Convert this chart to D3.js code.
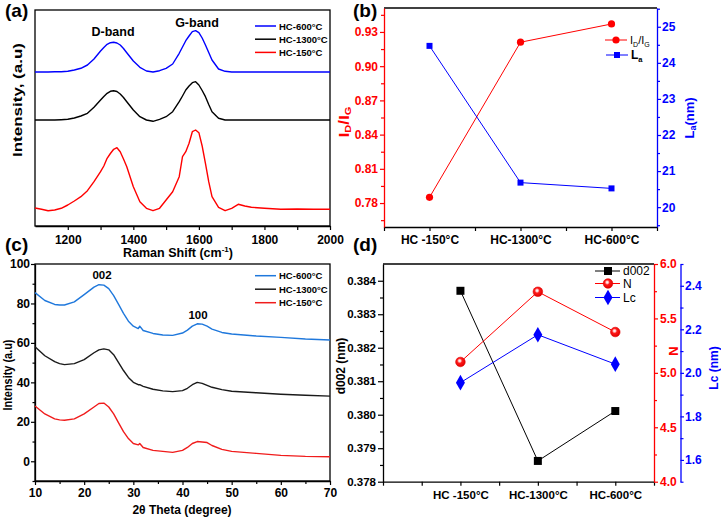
<!DOCTYPE html>
<html>
<head>
<meta charset="utf-8">
<script src="https://cdn.jsdelivr.net/npm/d3@7/dist/d3.min.js"></script>
<style>
body{margin:0;background:#fff;}
svg{display:block;}
</style>
</head>
<body>
<svg id="chart" width="721" height="518"></svg>
<script>
// ---------------- DATA ----------------
// (a) Raman spectra (arbitrary intensity, stacked)
const ramanShift = [1100,1120,1140,1160,1180,1200,1220,1240,1260,1280,1300,1310,1320,1330,1340,1350,1360,1370,1380,1400,1420,1440,1460,1480,1500,1520,1540,1550,1560,1570,1580,1590,1600,1610,1620,1630,1640,1660,1680,1700,1720,1740,1760,1800,1850,1900,1950,2000];
const ramanHC600  = [154,154,154,154.3,154.3,154.7,156,157.7,161,167,175,178.5,181.7,183.3,183.7,183,181,177.5,173.3,165,158.7,155,154,155.3,157.7,162,172.7,179,185.3,190,194.3,195.3,193.3,188,181,173.5,166,157,154.7,154,154,154,154,154,154,154,154,154];
const ramanHC1300 = [106,106,106,106,106.3,106.7,108,110,112.7,118.7,126,129.5,132.7,134.7,135.3,134.5,132,128.5,124.3,116,109.3,106,104.7,106.7,109.3,114.3,124.3,130,136,140,143.3,144.3,141,135.5,129.3,121.5,114.3,107.7,106,106,106,106,106,106,106,106,106,106];
const ramanHC150  = [18,16.7,15.3,16,17.7,21,25,29.3,35.3,44.3,54.3,60,67.7,72.5,76.7,78.3,74.3,67,59.3,39.3,24.3,17.7,15.3,17.7,26,34.3,49.3,69.3,74.3,82.7,94.3,96,93.3,80,62.7,44.3,29.3,18.7,15.3,17.7,21.7,20,18.7,17.7,16.7,17,16.7,16.7];
const ramanTicks = [1200,1400,1600,1800,2000];
const ramanMinor = [1300,1500,1700,1900];

// (c) XRD patterns
const twoTheta = [10,12,14,15,16,18,20,22,23,24,25,26,27,28,29,30,31,31.3,32,34,36,38,40,41,42,43,44,45,46,48,50,55,60,65,70];
const xrdHC600  = [85.5,81.5,79.5,79.2,79.2,80.8,84.5,88.3,89.5,89.3,87.5,84,79.5,75,71,68.5,67.3,68.5,66.3,64.8,64,63.8,65,66.5,68.5,69.7,69.5,68.5,67,65.3,64.5,63.5,62.8,62,61.5];
const xrdHC1300 = [58,53.5,50.5,49.5,49,49.5,51.5,55,56.5,57,56.5,54,50,46,42.5,40,38.8,38.8,38,36.5,35.7,35.3,35.8,37,38.8,40,39.5,38.5,37.5,36.3,35.5,34.7,34,33.5,33];
const xrdHC150  = [28,24,21.5,21,20.8,21.5,24,27.5,29.3,29.5,27.5,24,19.5,15,11.5,9,8.3,9,7,5.5,5,4.5,5.5,7,9,10,9.8,9.5,8,6,5,4,3,2.5,2.3];
const xrdXTicks = [10,20,30,40,50,60,70];
const xrdXMinor = [15,25,35,45,55,65];
const xrdYTicks = [0,20,40,60,80,100];
const xrdYMinor = [-10,10,30,50,70,90];

// (b) Raman parameters
const samples = ["HC -150°C","HC-1300°C","HC-600°C"];
const idig = [0.785, 0.921, 0.937];
const laNm = [24.47, 20.68, 20.52];
const idigTicks = [0.78,0.81,0.84,0.87,0.90,0.93];
const idigMinor = [0.765,0.795,0.825,0.855,0.885,0.915,0.945];
const laTicks = [20,21,22,23,24,25];
const laMinor = [19.5,20.5,21.5,22.5,23.5,24.5,25.5];

// (d) XRD parameters
const d002 = [0.38370, 0.37862, 0.38011];
const nLayers = [5.10, 5.745, 5.375];
const lcNm = [1.955, 2.175, 2.04];
const d002Ticks = [0.378,0.379,0.380,0.381,0.382,0.383,0.384];
const d002Minor = [0.3785,0.3795,0.3805,0.3815,0.3825,0.3835];
const nTicks = [4.0,4.5,5.0,5.5,6.0];
const nMinor = [4.25,4.75,5.25,5.75];
const lcTicks = [1.6,1.8,2.0,2.2,2.4];
const lcMinor = [1.5,1.7,1.9,2.1,2.3,2.5];

// ---------------- DRAWING ----------------
const FONT = '"Liberation Sans", Arial, Helvetica, sans-serif';
const svg = d3.select('#chart').attr('font-family', FONT);
const RED = '#ff0000', BLUE = '#0000ff';
const C_BLUE = '#1f78dc', C_RED = '#f01c1c', C_BLACK = '#1a1a1a';

function drawAxis(gen, pos, horizontal, majors, minors, fmt, color, fs, tick, pad, minorLen) {
  const tr = horizontal ? `translate(0,${pos})` : `translate(${pos},0)`;
  if (minors && minors.length) {
    const m = svg.append('g').attr('transform', tr)
      .call(gen().tickValues(minors).tickSize(minorLen || 3).tickFormat(''));
    m.select('.domain').remove();
    m.selectAll('.tick line').attr('stroke', color).attr('stroke-width', 1.2);
  }
  const a = svg.append('g').attr('transform', tr)
    .call(gen().tickValues(majors).tickSize(tick).tickSizeOuter(0).tickPadding(pad).tickFormat(fmt));
  a.attr('font-family', FONT);
  a.select('.domain').attr('stroke', color).attr('stroke-width', 1.3);
  a.selectAll('.tick line').attr('stroke', color).attr('stroke-width', 1.2);
  a.selectAll('.tick text').attr('fill', color).attr('font-size', fs).attr('font-weight', 'bold');
  return a;
}
function hline(x1, x2, y, color) {
  svg.append('line').attr('x1', x1).attr('x2', x2).attr('y1', y).attr('y2', y)
    .attr('stroke', color).attr('stroke-width', 1.3);
}
function text(x, y, s, o) {
  o = o || {};
  return svg.append('text').attr('x', x).attr('y', y).text(s)
    .attr('font-size', o.fs || 12).attr('font-weight', o.fw || 'bold')
    .attr('fill', o.color || '#000').attr('text-anchor', o.anchor || 'start');
}
function vtitle(x, y, color, fs, len) {
  const t = svg.append('text').attr('transform', `translate(${x},${y}) rotate(-90)`)
    .attr('text-anchor', 'middle').attr('dominant-baseline', 'central')
    .attr('font-size', fs).attr('font-weight', 'bold').attr('fill', color);
  if (len) t.attr('textLength', len).attr('lengthAdjust', 'spacingAndGlyphs');
  return t;
}

// defs: gradient for N markers (red ball with small highlight)
const defs = svg.append('defs');
const rg = defs.append('radialGradient').attr('id', 'ballRed').attr('cx', '42%').attr('cy', '38%').attr('r', '62%');
rg.append('stop').attr('offset', '0%').attr('stop-color', '#ffffff');
rg.append('stop').attr('offset', '18%').attr('stop-color', '#ffd0d0');
rg.append('stop').attr('offset', '42%').attr('stop-color', '#ff1a1a');
rg.append('stop').attr('offset', '100%').attr('stop-color', '#e00000');

// ===== Panel (a) =====
{
  const x = d3.scaleLinear().domain([1100, 2000]).range([35, 330]);
  const y = d3.scaleLinear().domain([0, 216]).range([226, 10]);
  svg.append('rect').attr('x', 35).attr('y', 10).attr('width', 295).attr('height', 216)
    .attr('fill', 'none').attr('stroke', '#000').attr('stroke-width', 1.3);
  drawAxis(() => d3.axisBottom(x), 226, true, ramanTicks, ramanMinor, d3.format('d'), '#000', 12, 4, 5, 4);
  const line = d3.line().x((d, i) => x(ramanShift[i])).y(d => y(d));
  [[ramanHC150, RED], [ramanHC1300, '#000'], [ramanHC600, BLUE]].forEach(([s, c]) => {
    svg.append('path').datum(s).attr('d', line).attr('fill', 'none').attr('stroke', c)
      .attr('stroke-width', 1.4).attr('stroke-linejoin', 'round');
  });
  text(113, 36, 'D-band', {fs: 12.5, anchor: 'middle'});
  text(197, 27, 'G-band', {fs: 12.5, anchor: 'middle'});
  const leg = [['HC-600°C', BLUE], ['HC-1300°C', '#000'], ['HC-150°C', RED]];
  leg.forEach(([l, c], i) => {
    const yy = 26 + i * 13.2;
    svg.append('line').attr('x1', 255).attr('x2', 276).attr('y1', yy).attr('y2', yy).attr('stroke', c).attr('stroke-width', 1.5);
    text(279, yy + 3.5, l, {fs: 9.5});
  });
  const xt = text(178, 257, 'Raman Shift (cm', {fs: 12.5, anchor: 'middle'});
  xt.append('tspan').attr('dy', -5).attr('font-size', 8).text('-1');
  xt.append('tspan').attr('dy', 5).text(')');
  vtitle(18, 100, '#000', 12.5, 114).text('Intensity, (a.u)');
  text(5, 17, '(a)', {fs: 19});
}

// ===== Panel (b) =====
{
  const x = d3.scaleLinear().domain([0.5, 3.5]).range([384, 657]);
  const yl = d3.scaleLinear().domain([0.759, 0.951]).range([227, 8]);
  const yr = d3.scaleLinear().domain([19.45, 25.52]).range([227, 8]);
  hline(384, 657, 8, '#000');
  const catFmt = d => (Number.isInteger(d) && d >= 1 && d <= 3) ? samples[d - 1] : '';
  drawAxis(() => d3.axisBottom(x), 227, true, [0.5, 1, 1.5, 2, 2.5, 3, 3.5], null, catFmt, '#000', 12, 4, 4);
  drawAxis(() => d3.axisLeft(yl), 384, false, idigTicks, idigMinor, d3.format('.2f'), RED, 12, 4, 2, 3);
  drawAxis(() => d3.axisRight(yr), 657, false, laTicks, laMinor, d3.format('d'), BLUE, 12, 4, 1, 3);
  const lineL = d3.line().x((d, i) => x(i + 1)).y(d => yl(d));
  const lineR = d3.line().x((d, i) => x(i + 1)).y(d => yr(d));
  svg.append('path').datum(idig).attr('d', lineL).attr('fill', 'none').attr('stroke', RED).attr('stroke-width', 1);
  svg.append('path').datum(laNm).attr('d', lineR).attr('fill', 'none').attr('stroke', BLUE).attr('stroke-width', 1);
  svg.selectAll(null).data(idig).enter().append('circle')
    .attr('cx', (d, i) => x(i + 1)).attr('cy', d => yl(d)).attr('r', 3.6).attr('fill', RED);
  svg.selectAll(null).data(laNm).enter().append('rect')
    .attr('x', (d, i) => x(i + 1) - 3).attr('y', d => yr(d) - 3).attr('width', 6).attr('height', 6).attr('fill', BLUE);
  // legend
  svg.append('line').attr('x1', 605).attr('x2', 627).attr('y1', 40).attr('y2', 40).attr('stroke', RED).attr('stroke-width', 1);
  svg.append('circle').attr('cx', 616).attr('cy', 40).attr('r', 3.6).attr('fill', RED);
  const t1 = text(630, 44, 'I', {fs: 11, fw: 'normal'});
  t1.append('tspan').attr('dy', 3).attr('font-size', 7).text('D');
  t1.append('tspan').attr('dy', -3).text('/I');
  t1.append('tspan').attr('dy', 3).attr('font-size', 7).text('G');
  svg.append('line').attr('x1', 606).attr('x2', 628).attr('y1', 55).attr('y2', 55).attr('stroke', BLUE).attr('stroke-width', 1);
  svg.append('rect').attr('x', 614).attr('y', 52).attr('width', 6).attr('height', 6).attr('fill', BLUE);
  const t2 = text(631, 59, 'L', {fs: 12, fw: 'bold'});
  t2.append('tspan').attr('dy', 3).attr('font-size', 7.5).text('a');
  // titles
  const yt = vtitle(344, 122, RED, 14, 31);
  yt.append('tspan').text('I');
  yt.append('tspan').attr('dy', 4).attr('font-size', 9).text('D');
  yt.append('tspan').attr('dy', -4).text('/I');
  yt.append('tspan').attr('dy', 4).attr('font-size', 9).text('G');
  const rt = vtitle(689, 118, BLUE, 13);
  rt.append('tspan').text('L');
  rt.append('tspan').attr('dy', 4).attr('font-size', 9).text('a');
  rt.append('tspan').attr('dy', -4).text('(nm)');
  text(353, 17, '(b)', {fs: 19});
}

// ===== Panel (c) =====
{
  const x = d3.scaleLinear().domain([10, 70]).range([35, 330]);
  const y = d3.scaleLinear().domain([-10, 100]).range([481, 264]);
  svg.append('rect').attr('x', 35).attr('y', 264).attr('width', 295).attr('height', 217)
    .attr('fill', 'none').attr('stroke', '#000').attr('stroke-width', 1.3);
  drawAxis(() => d3.axisBottom(x), 481, true, xrdXTicks, xrdXMinor, d3.format('d'), '#000', 12, 4, 3, 3);
  drawAxis(() => d3.axisLeft(y), 35, false, xrdYTicks, xrdYMinor, d3.format('d'), '#000', 12, 4, 1, 2.5);
  const line = d3.line().x((d, i) => x(twoTheta[i])).y(d => y(d));
  [[xrdHC150, C_RED], [xrdHC1300, C_BLACK], [xrdHC600, C_BLUE]].forEach(([s, c]) => {
    svg.append('path').datum(s).attr('d', line).attr('fill', 'none').attr('stroke', c)
      .attr('stroke-width', 1.4).attr('stroke-linejoin', 'round');
  });
  text(102, 279, '002', {fs: 11.5, anchor: 'middle'});
  text(198, 319, '100', {fs: 11.5, anchor: 'middle'});
  const leg = [['HC-600°C', C_BLUE], ['HC-1300°C', C_BLACK], ['HC-150°C', C_RED]];
  leg.forEach(([l, c], i) => {
    const yy = 275.7 + i * 13.5;
    svg.append('line').attr('x1', 255).attr('x2', 276).attr('y1', yy).attr('y2', yy).attr('stroke', c).attr('stroke-width', 1.5);
    text(279, yy + 3.5, l, {fs: 9.5});
  });
  text(182, 514, '2θ Theta (degree)', {fs: 12, anchor: 'middle'});
  vtitle(8, 375, '#000', 12, 71).text('Intensity (a.u)');
  text(5, 251, '(c)', {fs: 19});
}

// ===== Panel (d) =====
{
  const x = d3.scaleLinear().domain([0, 3.5]).range([383, 654]);
  const yd = d3.scaleLinear().domain([0.378, 0.3845]).range([481.7, 264]);
  const yn = d3.scaleLinear().domain([4, 6]).range([481.7, 264]);
  const yc = d3.scaleLinear().domain([1.5, 2.5]).range([481.7, 264]);
  hline(383, 654, 264, '#000');
  const catFmt = d => (Number.isInteger(d) && d >= 1 && d <= 3) ? samples[d - 1] : '';
  drawAxis(() => d3.axisBottom(x), 481.7, true, [0, 0.5, 1, 1.5, 2, 2.5, 3, 3.5], null, catFmt, '#000', 11.5, 4, 5);
  drawAxis(() => d3.axisLeft(yd), 383, false, d002Ticks, d002Minor, d3.format('.3f'), '#000', 11.5, 5, 2, 3);
  drawAxis(() => d3.axisRight(yn), 654, false, nTicks, nMinor, d3.format('.1f'), RED, 12, 4, 2, 3);
  drawAxis(() => d3.axisRight(yc), 680.5, false, lcTicks, lcMinor, d3.format('.1f'), BLUE, 12, 3.5, 1, 3);
  const px = (d, i) => x(i + 1);
  svg.append('path').datum(d002).attr('d', d3.line().x(px).y(d => yd(d))).attr('fill', 'none').attr('stroke', '#000').attr('stroke-width', 1);
  svg.append('path').datum(nLayers).attr('d', d3.line().x(px).y(d => yn(d))).attr('fill', 'none').attr('stroke', RED).attr('stroke-width', 1);
  svg.append('path').datum(lcNm).attr('d', d3.line().x(px).y(d => yc(d))).attr('fill', 'none').attr('stroke', BLUE).attr('stroke-width', 1);
  const sq = d3.symbol().type(d3.symbolSquare).size(64);
  const dia = d3.symbol().type(d3.symbolDiamond).size(70);
  svg.selectAll(null).data(d002).enter().append('path').attr('d', sq)
    .attr('transform', (d, i) => `translate(${px(d, i)},${yd(d)})`).attr('fill', '#000');
  svg.selectAll(null).data(nLayers).enter().append('circle')
    .attr('cx', px).attr('cy', d => yn(d)).attr('r', 4.8).attr('fill', 'url(#ballRed)').attr('stroke', '#e00000').attr('stroke-width', 0.6);
  svg.selectAll(null).data(lcNm).enter().append('path').attr('d', dia)
    .attr('transform', (d, i) => `translate(${px(d, i)},${yc(d)})`).attr('fill', BLUE);
  // legend
  const legY = [271, 283.5, 297.5];
  [['d002', '#000'], ['N', RED], ['Lc', BLUE]].forEach(([l, c], i) => {
    svg.append('line').attr('x1', 595).attr('x2', 620).attr('y1', legY[i]).attr('y2', legY[i]).attr('stroke', c).attr('stroke-width', 1);
    text(623, legY[i] + 4.3, l, {fs: 12, fw: 'normal'});
  });
  svg.append('path').attr('d', sq).attr('transform', `translate(608,${legY[0]})`).attr('fill', '#000');
  svg.append('circle').attr('cx', 608).attr('cy', legY[1]).attr('r', 4.8).attr('fill', 'url(#ballRed)').attr('stroke', '#e00000').attr('stroke-width', 0.6);
  svg.append('path').attr('d', dia).attr('transform', `translate(608,${legY[2]})`).attr('fill', BLUE);
  vtitle(341, 366, '#000', 12).text('d002 (nm)');
  vtitle(673, 351, RED, 13).text('N');
  vtitle(713.5, 368, BLUE, 12).text('Lc (nm)');
  text(353, 251, '(d)', {fs: 19});
}
</script>
</body>
</html>
